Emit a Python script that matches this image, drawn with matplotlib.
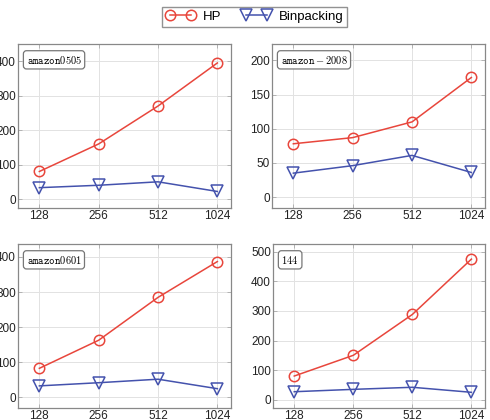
import matplotlib
matplotlib.use("Agg")
import matplotlib.pyplot as plt

plt.rcParams["font.family"] = ["Liberation Sans", "DejaVu Sans"]
plt.rcParams["mathtext.fontset"] = "cm"

sizes = ["128", "256", "512", "1024"]

# one entry per panel: label, HP, Binpacking
labels = [r"$\mathtt{amazon0505}$", r"$\mathtt{amazon}-2008$",
          r"$\mathtt{amazon0601}$", r"$144$"]
hp_0505 = [80, 160, 270, 395]
bin_0505 = [33, 40, 50, 22]
hp_2008 = [78, 87, 110, 175]
bin_2008 = [35, 46, 61, 36]
hp_0601 = [83, 163, 285, 387]
bin_0601 = [33, 42, 52, 25]
hp_144 = [80, 150, 288, 475]
bin_144 = [27, 35, 42, 25]

hp_all = [hp_0505, hp_2008, hp_0601, hp_144]
bin_all = [bin_0505, bin_2008, bin_0601, bin_144]
yticks_all = [[0, 100, 200, 300, 400], [0, 50, 100, 150, 200],
              [0, 100, 200, 300, 400], [0, 100, 200, 300, 400, 500]]
ylims = [(-26, 450), (-16, 224), (-30, 437), (-28, 526)]

RED = "#e8463c"
BLUE = "#4452ad"

fig = plt.figure(figsize=(4.9, 4.2), dpi=100)
# axes rects in pixels: left, top, right, bottom
rects = [(18, 44, 231, 208), (272, 44, 485, 208),
         (18, 244, 231, 408), (273, 244, 485, 408)]

x = list(range(len(sizes)))
for i, (l, t, r, b) in enumerate(rects):
    ax = fig.add_axes([l / 490, 1 - b / 420, (r - l) / 490, (b - t) / 420])
    ax.plot(x, hp_all[i], color=RED, marker="o", markersize=7.5,
            markerfacecolor="none", markeredgewidth=1.1, linewidth=1.1,
            label="HP")
    ax.plot(x, bin_all[i], color=BLUE, marker="v", markersize=8,
            markerfacecolor="none", markeredgewidth=1.1, linewidth=1.1,
            label="Binpacking")
    ax.set_xlim(-0.36, 3.23)
    ax.set_ylim(*ylims[i])
    ax.set_xticks(x)
    ax.set_xticklabels(sizes)
    ax.set_yticks(yticks_all[i])
    ax.grid(True, color="#e2e2e2", linewidth=0.7)
    ax.set_axisbelow(True)
    for s in ax.spines.values():
        s.set_color("#888888")
        s.set_linewidth(0.9)
    ax.tick_params(direction="in", length=3, width=0.6, color="#aaaaaa",
                   labelsize=8.5, pad=1.5, top=True, right=True,
                   labelcolor="#222222")
    ax.text(0.04, 0.94, labels[i], transform=ax.transAxes, fontsize=7.5,
            ha="left", va="top",
            bbox=dict(boxstyle="round,pad=0.3", facecolor="white",
                      edgecolor="#777777", linewidth=0.9))
    if i == 0:
        handles, hl = ax.get_legend_handles_labels()

fig.legend(handles, hl, loc="upper center", bbox_to_anchor=(0.52, 1.0),
           ncol=2, fontsize=9.5, frameon=True, fancybox=False,
           edgecolor="#777777", handlelength=2.2, columnspacing=1.5,
           numpoints=2, handletextpad=0.6, borderpad=0.3)

fig.savefig("out.png", dpi=100)
